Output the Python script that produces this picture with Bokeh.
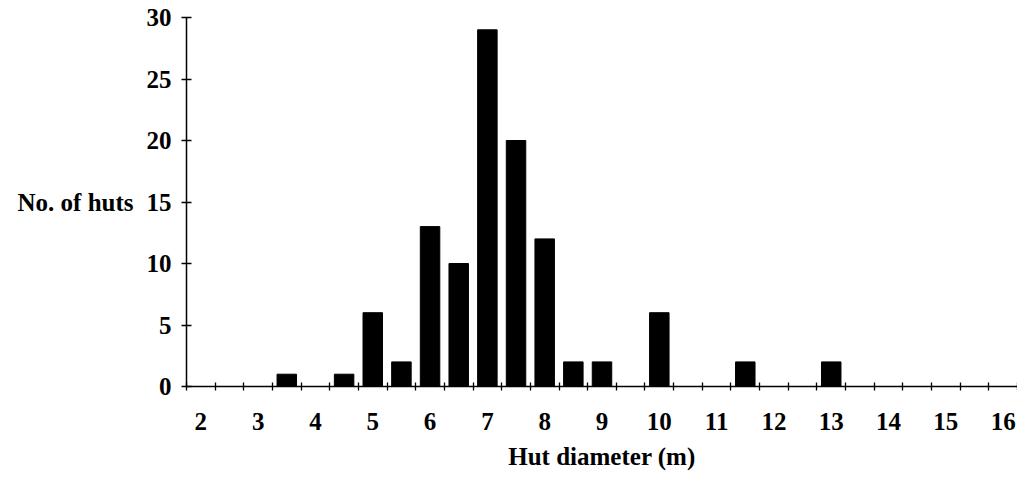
from bokeh.plotting import figure
from bokeh.models import FixedTicker, Range1d
from bokeh.embed import file_html
from bokeh.resources import INLINE

# data
diameters = [3.5, 4.5, 5, 5.5, 6, 6.5, 7, 7.5, 8, 8.5, 9, 10, 11.5, 13]
counts = [1, 1, 6, 2, 13, 10, 29, 20, 12, 2, 2, 6, 2, 2]
x_labels = list(range(2, 17))
bin_edges = [1.75 + 0.5 * i for i in range(30)]
y_ticks = [0, 5, 10, 15, 20, 25, 30]

FONT = "Liberation Serif"
FS = "25px"

p = figure(width=1017, height=480, output_backend="svg", toolbar_location=None,
           x_range=Range1d(1.75, 16.25), y_range=Range1d(0, 30),
           min_border_left=186, min_border_right=0, min_border_top=17, min_border_bottom=94)
p.outline_line_color = None
p.xgrid.visible = False
p.ygrid.visible = False
p.background_fill_color = "white"

p.vbar(x=diameters, top=counts, width=0.34, color="black")

xa = p.xaxis[0]
xa.ticker = FixedTicker(ticks=x_labels, minor_ticks=bin_edges)
xa.major_tick_in = 0
xa.major_tick_out = 0
xa.minor_tick_in = 4
xa.minor_tick_out = 4
xa.minor_tick_line_color = "black"
xa.minor_tick_line_width = 1.3
xa.axis_line_color = "black"
xa.axis_line_width = 1.5
xa.major_label_text_font = FONT
xa.major_label_text_font_size = FS
xa.major_label_text_font_style = "bold"
xa.major_label_text_color = "black"
xa.major_label_text_line_height = 0.8
xa.major_label_standoff = 22
xa.axis_label = "Hut diameter (m)"
xa.axis_label_text_font = FONT
xa.axis_label_text_font_size = FS
xa.axis_label_text_font_style = "bold"
xa.axis_label_text_color = "black"
xa.axis_label_text_line_height = 0.8
xa.axis_label_standoff = 10

ya = p.yaxis[0]
ya.ticker = FixedTicker(ticks=y_ticks, minor_ticks=[])
ya.major_tick_in = 5
ya.major_tick_out = 5
ya.major_tick_line_color = "black"
ya.major_tick_line_width = 1.3
ya.axis_line_color = "black"
ya.axis_line_width = 1.5
ya.major_label_text_font = FONT
ya.major_label_text_font_size = FS
ya.major_label_text_font_style = "bold"
ya.major_label_text_color = "black"
ya.major_label_standoff = 10
ya.axis_label = "No. of huts"
ya.axis_label_orientation = "horizontal"
ya.axis_label_text_font = FONT
ya.axis_label_text_font_size = FS
ya.axis_label_text_font_style = "bold"
ya.axis_label_text_color = "black"
ya.axis_label_standoff = 10

open("out.html", "w").write(file_html(p, INLINE))
